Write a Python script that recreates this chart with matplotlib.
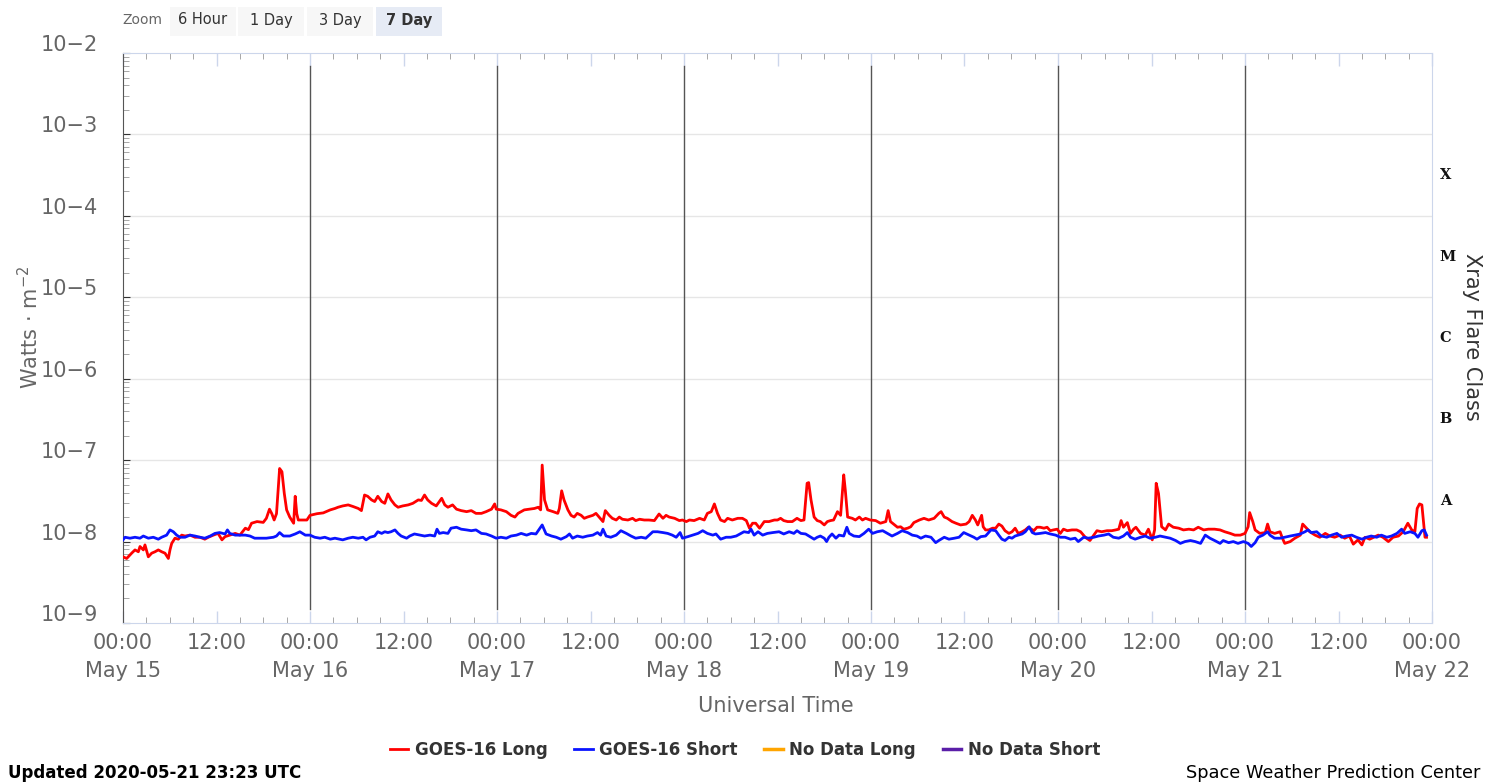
import numpy as np
import matplotlib
matplotlib.use('Agg')
import matplotlib.pyplot as plt
from matplotlib.patches import Rectangle
from matplotlib.transforms import ScaledTranslation

plt.rcParams['font.family'] = ['DejaVu Sans']

# hours since 2020-05-15 00:00 UTC, flux in units of 1e-8 W/m^2
long_hours = [0.0, 0.47, 1.11, 1.54, 1.97, 2.18, 2.61, 2.82, 3.25, 3.68, 4.11, 4.53, 4.96, 5.39, 5.82,
              6.03, 6.25, 6.67, 7.1, 7.53, 7.96, 8.6, 9.24, 9.88, 10.5, 10.95, 11.6, 12.2, 12.7, 13.1,
              13.7, 14.4, 15.0, 15.7, 16.1, 16.5, 17.2, 18.0, 18.4, 18.8, 19.1, 19.4, 19.7, 20.1, 20.4,
              20.7, 21.0, 21.4, 21.9, 22.1, 22.3, 22.5, 22.9, 23.6, 24.0, 24.9, 25.7, 26.6, 27.2,
              27.6, 28.2, 28.9, 29.5, 30.2, 30.6, 31.0, 31.4, 31.9, 32.3, 32.7, 33.2, 33.6, 34.0, 34.4,
              34.9, 35.3, 35.9, 36.6, 37.2, 37.9, 38.3, 38.7, 39.1, 39.6, 40.2, 40.9, 41.3, 41.7, 42.3,
              42.8, 43.4, 44.1, 44.7, 45.3, 46.0, 46.6, 47.3, 47.7, 47.9, 48.5, 49.2, 49.8, 50.3, 50.7,
              51.1, 51.5, 52.2, 52.8, 53.3, 53.6, 53.8, 54.1, 54.5, 55.2, 55.8,
              56.0, 56.3, 56.6, 57.1, 57.5, 57.9, 58.3, 58.8, 59.2, 59.6, 60.3, 60.7, 61.1, 61.6, 61.9,
              62.4, 62.8, 63.3, 63.7, 64.1, 64.8, 65.4, 65.8, 66.3, 66.9, 67.5, 68.2, 68.8, 69.3, 69.7,
              70.1, 70.8, 71.4, 71.8, 72.3, 72.7, 73.3, 74.0, 74.6, 75.0, 75.5, 75.9, 76.3, 76.7, 77.2,
              77.6, 78.2, 78.9, 79.5, 80.0, 80.4, 80.8, 81.2, 81.7, 82.3, 82.9, 83.6,
              84.0, 84.4, 84.8, 85.3, 85.9, 86.5, 87.0, 87.4, 87.8, 88.0, 88.3, 88.7, 89.1, 89.5, 90.0,
              90.4, 90.8, 91.2, 91.7, 92.1, 92.5, 92.7, 93.0, 93.6, 94.0, 94.5, 94.9, 95.3, 95.9, 96.6,
              97.2, 97.9, 98.2, 98.5, 98.9, 99.4, 99.8, 100.2, 100.7, 101.1, 101.5, 102.2, 102.8, 103.4,
              104.1, 104.7, 105.0, 105.4, 105.8, 106.4, 106.9, 107.5, 108.2, 108.6, 109.0, 109.4, 109.7,
              110.2, 110.4, 110.7, 111.1, 111.6,
              112.0, 112.4, 112.8, 113.2, 113.7, 114.1, 114.5, 114.9, 115.4, 115.8, 116.2, 116.9, 117.3,
              117.7, 118.2, 118.6, 119.0, 119.4, 119.9, 120.3, 120.7, 121.2, 121.8, 122.4, 122.9, 123.5,
              124.1, 124.6, 125.0, 125.6, 126.3, 126.9, 127.4, 127.8, 128.1, 128.4, 128.9, 129.3, 129.7,
              130.0, 130.6, 131.2, 131.6, 132.1, 132.4, 132.6, 132.9, 133.3, 133.8, 134.2, 134.8, 135.5,
              136.1, 136.8, 137.4, 138.0, 138.7, 139.3,
              140.1, 140.8, 141.4, 142.1, 142.7, 143.4, 144.0, 144.4, 144.6, 145.0, 145.3, 145.9, 146.6,
              146.9, 147.2, 147.8, 148.5, 148.8, 149.1, 149.8, 150.4, 151.1, 151.4, 151.9, 152.3, 153.0,
              153.6, 154.3, 154.9, 155.5, 156.2, 156.8, 157.4, 157.9, 158.5, 159.0, 159.4, 160.0, 160.7,
              161.1, 161.7, 162.4, 163.0, 163.7, 164.3, 164.9, 165.4, 165.8, 166.1, 166.4, 166.7, 167.1,
              167.3]
long_flux = [0.65, 0.62, 0.72, 0.79, 0.75, 0.87, 0.79, 0.91, 0.65, 0.72, 0.75, 0.79, 0.75, 0.72, 0.62,
             0.79, 0.95, 1.1, 1.07, 1.2, 1.17, 1.2, 1.13, 1.13, 1.07, 1.13, 1.2, 1.26, 1.05, 1.15,
             1.2, 1.26, 1.2, 1.46, 1.4, 1.68, 1.76, 1.72, 1.93, 2.5, 2.2, 1.84, 2.2, 7.9, 7.2,
             3.9, 2.45, 2.0, 1.68, 3.6, 2.2, 1.84, 1.84, 1.84, 2.1, 2.2, 2.25, 2.45, 2.55,
             2.64, 2.74, 2.82, 2.7, 2.55, 2.4, 3.73, 3.6, 3.25, 3.1, 3.6, 3.1, 2.95, 3.85, 3.25,
             2.82, 2.64, 2.74, 2.82, 2.95, 3.25, 3.2, 3.73, 3.25, 2.95, 2.74, 3.4, 2.82, 2.64, 2.82,
             2.5, 2.4, 2.33, 2.4, 2.22, 2.22, 2.33, 2.5, 2.9, 2.5, 2.45, 2.33, 2.1, 2.0, 2.22,
             2.33, 2.45, 2.5, 2.55, 2.64, 2.45, 8.7, 3.25, 2.45, 2.33, 2.22,
             2.55, 4.2, 3.25, 2.45, 2.1, 2.0, 2.22, 2.1, 1.93, 2.0, 2.1, 2.22, 2.0, 1.76, 2.4,
             2.1, 1.93, 1.84, 2.0, 1.88, 1.84, 1.93, 1.81, 1.88, 1.84, 1.84, 1.81, 2.18, 1.93, 2.1,
             2.0, 1.93, 1.81, 1.84, 1.76, 1.84, 1.81, 1.93, 1.84, 2.22, 2.33, 2.9, 2.22, 1.84, 1.76,
             1.93, 1.84, 1.93, 1.93, 1.81, 1.46, 1.68, 1.68, 1.46, 1.76, 1.76, 1.84,
             1.84, 1.93, 1.81, 1.76, 1.76, 1.93, 1.81, 1.84, 5.2, 5.3, 3.25, 2.0, 1.81, 1.76, 1.6,
             1.76, 1.81, 1.84, 2.33, 2.1, 6.6, 4.3, 2.0, 1.93, 1.84, 2.0, 1.84, 1.93, 1.84, 1.81,
             1.68, 1.76, 2.4, 1.76, 1.64, 1.5, 1.52, 1.42, 1.46, 1.52, 1.71, 1.84, 1.93, 1.84,
             1.93, 2.22, 2.33, 2.0, 1.93, 1.76, 1.68, 1.6, 1.64, 1.76, 2.1, 1.84, 1.6,
             2.1, 1.52, 1.39, 1.39, 1.46,
             1.46, 1.64, 1.55, 1.36, 1.26, 1.32, 1.46, 1.26, 1.32, 1.39, 1.5, 1.36, 1.5,
             1.5, 1.46, 1.5, 1.36, 1.39, 1.42, 1.26, 1.42, 1.36, 1.39, 1.39, 1.32, 1.13,
             1.03, 1.2, 1.36, 1.32, 1.36, 1.36, 1.39, 1.42, 1.81, 1.5, 1.71, 1.26, 1.42,
             1.5, 1.26, 1.2, 1.42, 1.05, 1.39, 5.2, 3.9, 1.52, 1.39, 1.64, 1.5, 1.46,
             1.39, 1.42, 1.39, 1.5, 1.39, 1.42,
             1.42, 1.39, 1.32, 1.26, 1.2, 1.2, 1.26, 1.52, 2.27, 1.76, 1.39, 1.26, 1.29,
             1.64, 1.32, 1.26, 1.32, 1.1, 0.95, 1.0, 1.1, 1.2, 1.64, 1.46, 1.32, 1.2,
             1.13, 1.26, 1.17, 1.13, 1.2, 1.1, 1.17, 0.93, 1.05, 0.91, 1.13, 1.07, 1.15,
             1.2, 1.13, 1.0, 1.13, 1.17, 1.32, 1.68, 1.39, 1.32, 2.55, 2.9, 2.82, 1.13,
             1.13]

short_hours = [0.0, 0.26, 0.9, 1.54, 2.18, 2.61, 3.25, 3.89, 4.53, 4.96, 5.6, 6.03, 6.46, 6.89, 7.32,
               7.96, 8.6, 9.24, 9.88, 10.5, 11.2, 11.8, 12.4, 13.1, 13.4, 13.7, 14.4, 15.0, 15.7, 16.3,
               16.9, 17.6, 18.4, 19.3, 19.7, 20.1, 20.6, 21.4, 22.1, 22.7, 23.4, 24.0, 24.6, 25.3, 25.9,
               26.6, 27.2, 27.8,
               28.2, 28.9, 29.5, 30.2, 30.8, 31.2, 31.7, 32.3, 32.7, 33.2, 33.6, 34.0, 34.4, 34.9, 35.3,
               35.7, 36.4, 36.8, 37.4, 38.1, 38.7, 39.4, 40.0, 40.3, 40.6, 41.1, 41.7, 42.1, 42.8, 43.4,
               44.1, 44.7, 45.3, 46.0, 46.6, 47.3, 47.9, 48.5, 49.2, 49.8, 50.5, 51.1, 51.8, 52.4, 53.0,
               53.8, 54.3, 55.0, 55.6,
               56.2, 56.9, 57.3, 57.7, 58.3, 59.0, 59.6, 60.3, 60.9, 61.3, 61.6, 62.0, 62.6, 63.3, 63.9,
               64.6, 65.2, 65.8, 66.5, 67.1, 68.0, 68.6, 69.3, 69.9, 70.5, 71.0, 71.5, 71.8, 72.5, 73.1,
               73.8, 74.4, 75.0, 75.7, 76.1, 76.7, 77.4, 78.0, 78.7, 79.3, 79.7, 80.3, 80.6, 81.0, 81.5,
               82.1, 82.7, 83.4,
               84.2, 84.8, 85.5, 86.1, 86.5, 87.0, 87.6, 88.3, 88.7, 89.1, 89.5, 90.0, 90.3, 90.6, 91.0,
               91.5, 91.9, 92.5, 92.9, 93.2, 93.8, 94.5, 95.1, 95.7, 96.2, 96.8, 97.5, 98.1, 98.7, 99.4,
               100.0, 100.7, 101.3, 101.9, 102.4, 103.0, 103.7, 104.3, 104.7, 105.4, 106.0, 106.7, 107.3,
               107.9, 108.6, 109.2, 109.6, 110.1, 110.7, 111.4,
               112.0, 112.4, 112.8, 113.2, 113.7, 114.1, 114.5, 114.9, 115.4, 115.8, 116.3, 116.7, 117.1,
               117.7, 118.4, 119.0, 119.7, 120.3, 120.9, 121.6, 122.2, 122.6, 123.3, 123.9, 124.6, 125.2,
               125.9, 126.5, 127.1, 127.8, 128.4, 128.9, 129.3, 129.9, 130.6, 131.2, 131.8, 132.5, 133.1,
               133.8, 134.4, 135.1, 135.7, 136.3, 137.0, 137.6, 138.3, 138.9, 139.5,
               140.1, 140.8, 141.2, 141.9, 142.5, 143.1, 143.8, 144.4, 144.8, 145.3, 145.7, 146.3, 146.9,
               147.2, 147.8, 148.5, 149.1, 149.8, 150.4, 151.1, 151.7, 152.1, 152.5, 153.2, 153.8, 154.5,
               155.1, 155.8, 156.4, 157.0, 157.7, 158.3, 159.0, 159.6, 160.2, 160.9, 161.5, 162.2, 162.8,
               163.5, 164.1, 164.5, 165.2, 165.8, 166.2, 166.7, 167.0, 167.3]
short_flux = [1.05, 1.13, 1.1, 1.13, 1.1, 1.17, 1.1, 1.13, 1.07, 1.13, 1.2, 1.39, 1.32, 1.2, 1.13,
              1.13, 1.2, 1.17, 1.13, 1.1, 1.17, 1.26, 1.29, 1.24, 1.39, 1.26, 1.2, 1.2, 1.2, 1.17,
              1.1, 1.1, 1.1, 1.13, 1.17, 1.29, 1.17, 1.17, 1.24, 1.32, 1.2, 1.2, 1.13, 1.1, 1.13,
              1.07, 1.1, 1.07,
              1.05, 1.1, 1.13, 1.1, 1.13, 1.05, 1.13, 1.17, 1.32, 1.26, 1.32, 1.29, 1.32, 1.39, 1.26,
              1.17, 1.1, 1.17, 1.24, 1.2, 1.17, 1.2, 1.17, 1.42, 1.26, 1.29, 1.26, 1.46, 1.5, 1.42,
              1.39, 1.36, 1.39, 1.26, 1.24, 1.17, 1.1, 1.13, 1.1, 1.17, 1.2, 1.26, 1.2, 1.26, 1.24,
              1.6, 1.24, 1.17, 1.13,
              1.07, 1.15, 1.24, 1.1, 1.17, 1.13, 1.17, 1.2, 1.29, 1.2, 1.42, 1.17, 1.13, 1.2, 1.36,
              1.26, 1.17, 1.1, 1.13, 1.1, 1.32, 1.32, 1.29, 1.26, 1.2, 1.13, 1.29, 1.1, 1.15, 1.2,
              1.26, 1.36, 1.26, 1.2, 1.24, 1.07, 1.13, 1.13, 1.17, 1.26, 1.32, 1.29, 1.42, 1.2, 1.32,
              1.2, 1.26, 1.29,
              1.32, 1.24, 1.32, 1.26, 1.36, 1.26, 1.24, 1.13, 1.07, 1.13, 1.17, 1.1, 1.0, 1.13, 1.24,
              1.1, 1.2, 1.17, 1.5, 1.26, 1.17, 1.15, 1.26, 1.42, 1.26, 1.32, 1.36, 1.26, 1.17, 1.26,
              1.36, 1.29, 1.2, 1.17, 1.1, 1.17, 1.13, 0.97, 1.03, 1.13, 1.07, 1.1, 1.13,
              1.29, 1.2, 1.13, 1.07, 1.15, 1.17, 1.39,
              1.36, 1.2, 1.07, 1.03, 1.13, 1.1, 1.17, 1.2, 1.24, 1.32, 1.52, 1.29, 1.24,
              1.26, 1.29, 1.24, 1.2, 1.13, 1.13, 1.07, 1.1, 1.0, 1.13, 1.1, 1.13, 1.17,
              1.2, 1.24, 1.13, 1.1, 1.17, 1.29, 1.13, 1.07, 1.13, 1.17, 1.1, 1.13, 1.17,
              1.13, 1.1, 1.03, 0.95, 1.0, 1.03, 1.0, 0.95, 1.2, 1.1,
              1.03, 0.95, 1.03, 0.97, 1.0, 0.95, 1.0, 0.95, 0.87, 0.97, 1.13, 1.2, 1.32,
              1.2, 1.1, 1.1, 1.13, 1.17, 1.2, 1.24, 1.32, 1.39, 1.29, 1.32, 1.17, 1.13,
              1.2, 1.26, 1.13, 1.17, 1.2, 1.13, 1.07, 1.13, 1.17, 1.13, 1.2, 1.13, 1.17,
              1.26, 1.42, 1.26, 1.32, 1.26, 1.13, 1.36, 1.39, 1.2]

x_ticks = [0, 12, 24, 36, 48, 60, 72, 84, 96, 108, 120, 132, 144, 156, 168]
x_ticklabels = ['00:00\nMay 15', '12:00', '00:00\nMay 16', '12:00', '00:00\nMay 17', '12:00',
                '00:00\nMay 18', '12:00', '00:00\nMay 19', '12:00', '00:00\nMay 20', '12:00',
                '00:00\nMay 21', '12:00', '00:00\nMay 22']
day_lines = [24, 48, 72, 96, 120, 144]
y_exponents = [-9, -8, -7, -6, -5, -4, -3, -2]
flare_classes = ['A', 'B', 'C', 'M', 'X']
flare_levels = [10 ** -7.5, 10 ** -6.5, 10 ** -5.5, 10 ** -4.5, 10 ** -3.5]

W, H = 1489, 784
fig = plt.figure(figsize=(W / 100, H / 100), dpi=100)
ax = fig.add_axes([123 / W, 1 - 623 / H, (1432 - 123) / W, (623 - 53) / H])


def fx(px):
    return px / W


def fy(py):
    return 1 - py / H


ax.plot(long_hours, np.array(long_flux) * 1e-8, color='#ff0000', lw=2.0, label='GOES-16 Long', zorder=3)
ax.plot(short_hours, np.array(short_flux) * 1e-8, color='#0a14ff', lw=2.0, label='GOES-16 Short', zorder=4)
ax.plot([], [], color='#ffa500', lw=2.5, label='No Data Long')
ax.plot([], [], color='#5a1ea8', lw=2.5, label='No Data Short')

ax.set_yscale('log')
ax.set_ylim(1e-9, 1e-2)
ax.set_xlim(0, 168)

# decade grid lines and day separators
for e in y_exponents[1:-1]:
    ax.axhline(10.0 ** e, color='#e6e6e6', lw=1, zorder=1)
for d in day_lines:
    ax.axvline(d, ymin=0.025, ymax=0.978, color='#555555', lw=1, zorder=2)

ax.set_yticks([10.0 ** e for e in y_exponents])
ax.set_yticklabels(['10\u2212%d' % -e for e in y_exponents], color='#666666', fontsize=15)
ax.tick_params(axis='y', which='major', direction='in', length=5, color='#333333', pad=18)
ax.tick_params(axis='y', which='minor', direction='in', length=4, color='#999999')
for lab in ax.get_yticklabels():
    lab.set_transform(lab.get_transform() + ScaledTranslation(0, 0.10, fig.dpi_scale_trans))

ax.set_xticks(x_ticks)
ax.set_xticklabels(x_ticklabels, color='#666666', fontsize=15, linespacing=1.5)
ax.set_xticks(np.arange(0, 169, 3), minor=True)
ax.tick_params(axis='x', which='major', direction='in', length=9, color='#ccd6eb', width=1,
               top=True, pad=7)
ax.tick_params(axis='x', which='minor', direction='in', length=4, color='#999999', top=True)

for side in ['top', 'right', 'bottom']:
    ax.spines[side].set_color('#ccd6eb')
ax.spines['left'].set_color('#555555')

# flare class labels on the right
for c, lv in zip(flare_classes, flare_levels):
    ax.text(1.006, lv, c, transform=ax.get_yaxis_transform(), fontsize=10.5, fontweight='bold',
            family='DejaVu Serif', va='center', ha='left', color='#111111')

fig.text(fx(1472), fy(337), 'Xray Flare Class', rotation=270, ha='center', va='center',
         fontsize=15, color='#333333')
fig.text(fx(30), fy(327), 'Watts \u00b7 m$^{\u22122}$', rotation=90, ha='center', va='center',
         fontsize=15, color='#666666')
fig.text(fx(776), fy(706), 'Universal Time', ha='center', va='center', fontsize=15, color='#666666')

leg = fig.legend(loc='center', bbox_to_anchor=(fx(745), fy(750)), ncol=4, frameon=False,
                 handlelength=1.1, handletextpad=0.4, columnspacing=1.6,
                 prop={'weight': 'bold', 'size': 12})
for t in leg.get_texts():
    t.set_color('#333333')

fig.text(fx(8), fy(773), 'Updated 2020-05-21 23:23 UTC', ha='left', va='center',
         fontsize=12, fontweight='bold', color='#000000')
fig.text(fx(1480), fy(773), 'Space Weather Prediction Center', ha='right', va='center',
         fontsize=12.8, color='#000000')

# range selector buttons
fig.text(fx(122), fy(20), 'Zoom', ha='left', va='center', fontsize=10, color='#666666')
buttons = ['6 Hour', '1 Day', '3 Day', '7 Day']
btn_left = [170, 238, 307, 376]
for name, bx in zip(buttons, btn_left):
    sel = name == '7 Day'
    fig.patches.append(Rectangle((fx(bx), fy(36)), 66 / W, 29 / H, transform=fig.transFigure,
                                 facecolor='#e6ebf5' if sel else '#f7f7f7', edgecolor='none'))
    fig.text(fx(bx + 33), fy(20), name, ha='center', va='center', fontsize=10.5, color='#333333',
             fontweight='bold' if sel else 'normal')

fig.savefig('out.png', dpi=100)
